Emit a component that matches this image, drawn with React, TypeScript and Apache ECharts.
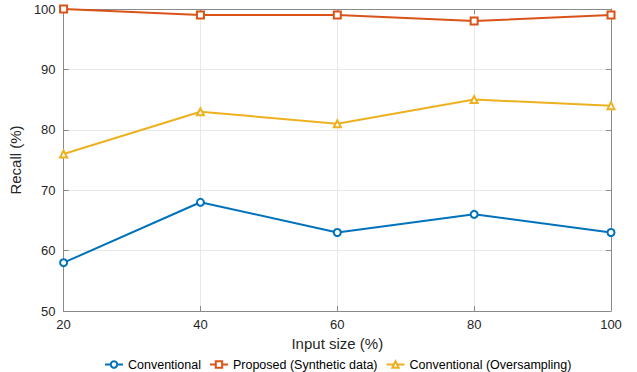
import React, { useEffect, useRef } from "react";
import * as echarts from "echarts";

const inputSizes = [20, 40, 60, 80, 100];
const conventional = [58, 68, 63, 66, 63];
const proposed = [100, 99, 99, 98, 99];
const oversampling = [76, 83, 81, 85, 84];
const seriesNames = ["Conventional", "Proposed (Synthetic data)", "Conventional (Oversampling)"];
const colors = ["#0072BD", "#D95319", "#EDB120"];

const FONT = "Liberation Sans, Arial, Helvetica, sans-serif";

export default function App() {
  const ref = useRef<HTMLDivElement>(null);
  useEffect(() => {
    if (!ref.current) return;
    const chart = echarts.init(ref.current, undefined, { renderer: "svg" });
    const axisColor = "#8a8a8a";
    const pair = (arr: number[]) => inputSizes.map((x, i) => [x, arr[i]]);
    const mk = (name: string, data: number[], color: string, symbol: string) => ({
      name,
      type: "line",
      data: pair(data),
      symbol,
      symbolSize: 7,
      lineStyle: { color, width: 2 },
      itemStyle: { color, borderColor: color, borderWidth: 2 },
      emphasis: { disabled: true },
    });
    chart.setOption({
      animation: false,
      backgroundColor: "#ffffff",
      textStyle: { fontFamily: FONT },
      grid: { left: 62, right: 26, top: 9, bottom: 61 },
      legend: {
        top: 353,
        left: 99,
        itemWidth: 18,
        itemHeight: 8,
        itemGap: 8,
        textStyle: { fontFamily: FONT, fontSize: 12.5, color: "#000" },
        data: seriesNames,
      },
      xAxis: [
        {
          type: "value",
          min: 20,
          max: 100,
          interval: 20,
          name: "Input size (%)",
          nameLocation: "middle",
          nameGap: 17,
          nameTextStyle: { fontFamily: FONT, fontSize: 15, color: "#262626" },
          axisLine: { show: true, lineStyle: { color: axisColor, width: 1 } },
          axisTick: { show: true, inside: true, length: 5, lineStyle: { color: axisColor } },
          axisLabel: { fontFamily: FONT, fontSize: 13, color: "#262626", margin: 7 },
          splitLine: { show: true, lineStyle: { color: "#e8e8e8", width: 1 } },
        },
        {
          type: "value",
          position: "top",
          min: 20,
          max: 100,
          interval: 20,
          axisLine: { show: true, lineStyle: { color: axisColor, width: 1 } },
          axisTick: { show: true, inside: true, length: 5, lineStyle: { color: axisColor } },
          axisLabel: { show: false },
          splitLine: { show: false },
        },
      ],
      yAxis: [
        {
          type: "value",
          min: 50,
          max: 100,
          interval: 10,
          name: "Recall (%)",
          nameLocation: "middle",
          nameGap: 29,
          nameRotate: 90,
          nameTextStyle: { fontFamily: FONT, fontSize: 15, color: "#262626" },
          axisLine: { show: true, lineStyle: { color: axisColor, width: 1 } },
          axisTick: { show: true, inside: true, length: 5, lineStyle: { color: axisColor } },
          axisLabel: { fontFamily: FONT, fontSize: 13, color: "#262626", margin: 8 },
          splitLine: { show: true, lineStyle: { color: "#e8e8e8", width: 1 } },
        },
        {
          type: "value",
          position: "right",
          min: 50,
          max: 100,
          interval: 10,
          axisLine: { show: true, lineStyle: { color: axisColor, width: 1 } },
          axisTick: { show: true, inside: true, length: 5, lineStyle: { color: axisColor } },
          axisLabel: { show: false },
          splitLine: { show: false },
        },
      ],
      series: [
        mk(seriesNames[0], conventional, colors[0], "emptyCircle"),
        mk(seriesNames[1], proposed, colors[1], "emptyRect"),
        mk(seriesNames[2], oversampling, colors[2], "emptyTriangle"),
      ],
    });
    return () => chart.dispose();
  }, []);
  return <div ref={ref} style={{ width: 637, height: 372, position: "fixed", left: 0, top: 0 }} />;
}
